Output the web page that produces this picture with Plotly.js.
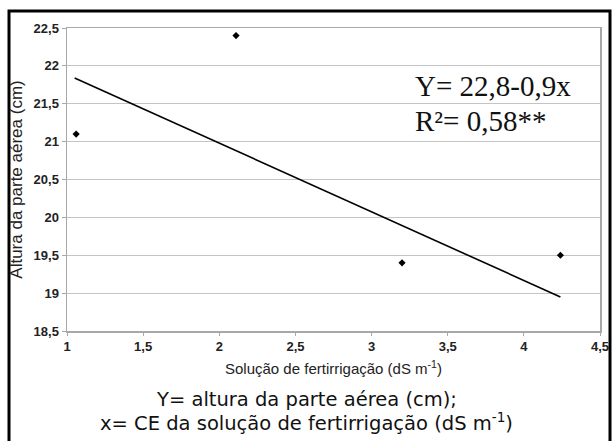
<!DOCTYPE html>
<html>
<head>
<meta charset="utf-8">
<script src="https://cdn.plot.ly/plotly-3.0.1.min.js"></script>
<style>html,body{margin:0;padding:0;background:#fff;}#chart{width:613px;height:441px;}</style>
</head>
<body>
<div id="chart"></div>
<script>
// Observed data
const ceValues = [1.06, 2.11, 3.2, 4.24];
const heightValues = [21.1, 22.4, 19.4, 19.5];
// Fitted line Y = 22,8 - 0,9x as drawn (endpoints)
const fitX = [1.05, 4.24];
const fitY = [21.84, 18.95];
const xTickVals = [1, 1.5, 2, 2.5, 3, 3.5, 4, 4.5];
const yTickVals = [18.5, 19, 19.5, 20, 20.5, 21, 21.5, 22, 22.5];
const fmt = v => '<b>' + String(v).replace('.', ',') + '</b>';
const xTickText = xTickVals.map(fmt);
const yTickText = yTickVals.map(fmt);

const L = 67, R = 13, T = 28, B = 110, W = 613, H = 441;
const pw = W - L - R, ph = H - T - B;
const px = v => (v - L) / pw;
const py = v => (H - B - v) / ph;

const traces = [
  {x: fitX, y: fitY, mode: 'lines', line: {color: '#000', width: 1.6}, hoverinfo: 'skip', showlegend: false},
  {x: ceValues, y: heightValues, mode: 'markers', marker: {symbol: 'diamond', size: 5.5, color: '#000'}, showlegend: false}
];

const tickFont = {family: 'Arial, Liberation Sans, sans-serif', size: 13, color: '#222'};

const layout = {
  width: W, height: H,
  margin: {l: L, r: R, t: T, b: B, pad: 0},
  paper_bgcolor: '#fff', plot_bgcolor: '#fff',
  separators: ',.',
  showlegend: false,
  xaxis: {
    range: [1, 4.5], tickmode: 'array', tickvals: xTickVals, ticktext: xTickText, showgrid: false, zeroline: false,
    showline: true, linecolor: '#a8a8a8', linewidth: 1.5, mirror: true,
    ticks: 'outside', ticklen: 3, tickcolor: '#a8a8a8',
    tickfont: tickFont
  },
  yaxis: {
    range: [18.5, 22.5], tickmode: 'array', tickvals: yTickVals, ticktext: yTickText, showgrid: true, gridcolor: '#c4c4c4', gridwidth: 1.2, zeroline: false,
    showline: true, linecolor: '#a8a8a8', linewidth: 1.5, mirror: true,
    ticks: 'outside', ticklen: 4, tickcolor: '#a8a8a8',
    tickfont: tickFont,
    title: {text: 'Altura da parte aérea (cm)', font: {family: 'Arial, Liberation Sans, sans-serif', size: 17, color: '#222'}, standoff: 6}
  },
  shapes: [
    {type: 'rect', xref: 'paper', yref: 'paper', x0: px(9), x1: px(610), y0: py(445), y1: py(11), line: {color: '#000', width: 3}, fillcolor: 'rgba(0,0,0,0)', layer: 'above'}
  ],
  annotations: [
    {xref: 'paper', yref: 'paper', x: 0.5, y: py(367), xanchor: 'center', yanchor: 'middle', showarrow: false,
     text: 'Solução de fertirrigação (dS m<sup>-1</sup>)', font: {family: 'Arial, Liberation Sans, sans-serif', size: 15, color: '#222'}},
    {xref: 'paper', yref: 'paper', x: px(413), y: py(86), xanchor: 'left', yanchor: 'middle', showarrow: false,
     text: 'Y= 22,8-0,9x', font: {family: 'Liberation Serif, Times New Roman, serif', size: 29, color: '#111'}},
    {xref: 'paper', yref: 'paper', x: px(413), y: py(121), xanchor: 'left', yanchor: 'middle', showarrow: false,
     text: 'R²= 0,58**', font: {family: 'Liberation Serif, Times New Roman, serif', size: 29, color: '#111'}},
    {xref: 'paper', yref: 'paper', x: px(306), y: py(399), xanchor: 'center', yanchor: 'middle', showarrow: false,
     text: 'Y= altura da parte aérea (cm);', font: {family: 'DejaVu Sans, Verdana, sans-serif', size: 19.5, color: '#111'}},
    {xref: 'paper', yref: 'paper', x: px(306), y: py(422), xanchor: 'center', yanchor: 'middle', showarrow: false,
     text: 'x= CE da solução de fertirrigação (dS m<sup>-1</sup>)', font: {family: 'DejaVu Sans, Verdana, sans-serif', size: 19.5, color: '#111'}}
  ]
};

Plotly.newPlot('chart', traces, layout, {staticPlot: true, displayModeBar: false});
</script>
</body>
</html>
